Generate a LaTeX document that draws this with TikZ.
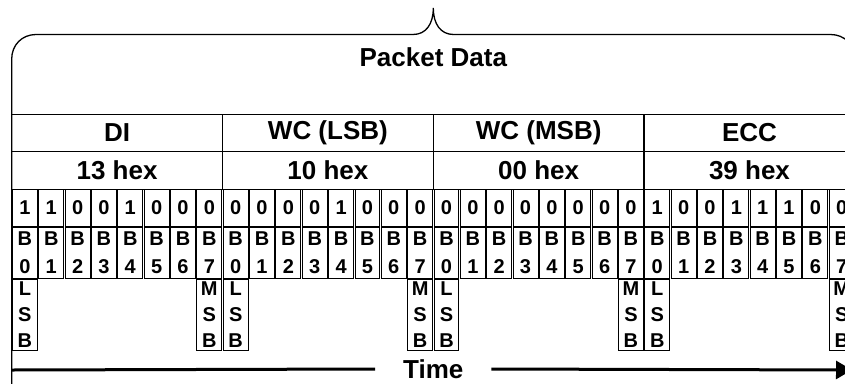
\documentclass[tikz,border=0pt]{standalone}
\usepackage{fontspec}
\setmainfont{Liberation Sans}
\usetikzlibrary{arrows.meta,positioning}

\begin{document}
\begin{tikzpicture}[x=1pt, y=-1pt,
  hdcell/.style={draw, line width=1.3pt, outer sep=0pt, inner sep=0pt, minimum width=210.8pt, minimum height=37.5pt, font=\bfseries\fontsize{26}{28}\selectfont},
  bitcell/.style={draw, line width=0.9pt, outer sep=0pt, inner sep=0pt, minimum width=24.9pt, minimum height=36.6pt, font=\bfseries\fontsize{20}{22}\selectfont},
  bcell/.style={bitcell, minimum height=50.6pt, align=center, font=\bfseries\fontsize{20}{28}\selectfont},
  sigcell/.style={bitcell, minimum height=71.6pt, align=center, font=\bfseries\fontsize{20}{25.8}\selectfont},
  arr/.style={-{Triangle[length=16pt,width=18pt]}, line width=3pt}]
\useasboundingbox (0,0) rectangle (845,383);
\clip (0,0) rectangle (845,383);
\draw[line width=1.3pt] (11.7,390) -- (11.7,59) .. controls (11.7,45) and (22,34.5) .. (36,34.5) -- (413,34.5)
  .. controls (426,34.5) and (433.3,24) .. (433.3,8) .. controls (433.3,24) and (440.6,34.5) .. (453.6,34.5)
  -- (830.6,34.5) .. controls (844.6,34.5) and (854.9,45) .. (854.9,59) -- (854.9,390);
\node[font=\bfseries\fontsize{26}{28}\selectfont] (pd) at (433.3,57.5) {Packet Data};
\node[hdcell] (di) at (117.1,133) {DI};
\node[hdcell, right=0pt of di] (wcl) {WC (LSB)};
\node[hdcell, right=0pt of wcl] (wcm) {WC (MSB)};
\node[hdcell, right=0pt of wcm] (ecc) {ECC};
\node[hdcell, below=0pt of di] (hdi) {13 hex};
\node[hdcell, below=0pt of wcl] (hwcl) {10 hex};
\node[hdcell, below=0pt of wcm] (hwcm) {00 hex};
\node[hdcell, below=0pt of ecc] (hecc) {39 hex};
\foreach \v [count=\i from 0] in {1,1,0,0,1,0,0,0, 0,0,0,0,1,0,0,0, 0,0,0,0,0,0,0,0, 1,0,0,1,1,1,0,0} {
  \pgfmathtruncatemacro\b{mod(\i,8)}
  \node[bitcell] (bit\i) at ({11.7+26.35*(\i+0.5)},208) {\v};
  \node[bcell] (bn\i) at ({11.7+26.35*(\i+0.5)},253) {B\\\b};
}
\foreach \i/\t in {0/L,7/M,8/L,15/M,16/L,23/M,24/L,31/M}
  \node[sigcell, below=0.7pt of bn\i] (sig\i) {\t\\S\\B};
\coordinate (tstart) at (11.7,370);
\coordinate (tend) at (852,370);
\node[font=\bfseries\fontsize{26}{28}\selectfont, inner xsep=28pt, outer sep=0pt] (time) at (433.3,369) {Time};
\draw[line width=3pt] (tstart) -- (time.west);
\draw[arr] (time.east) -- (tend);
\end{tikzpicture}
\end{document}
